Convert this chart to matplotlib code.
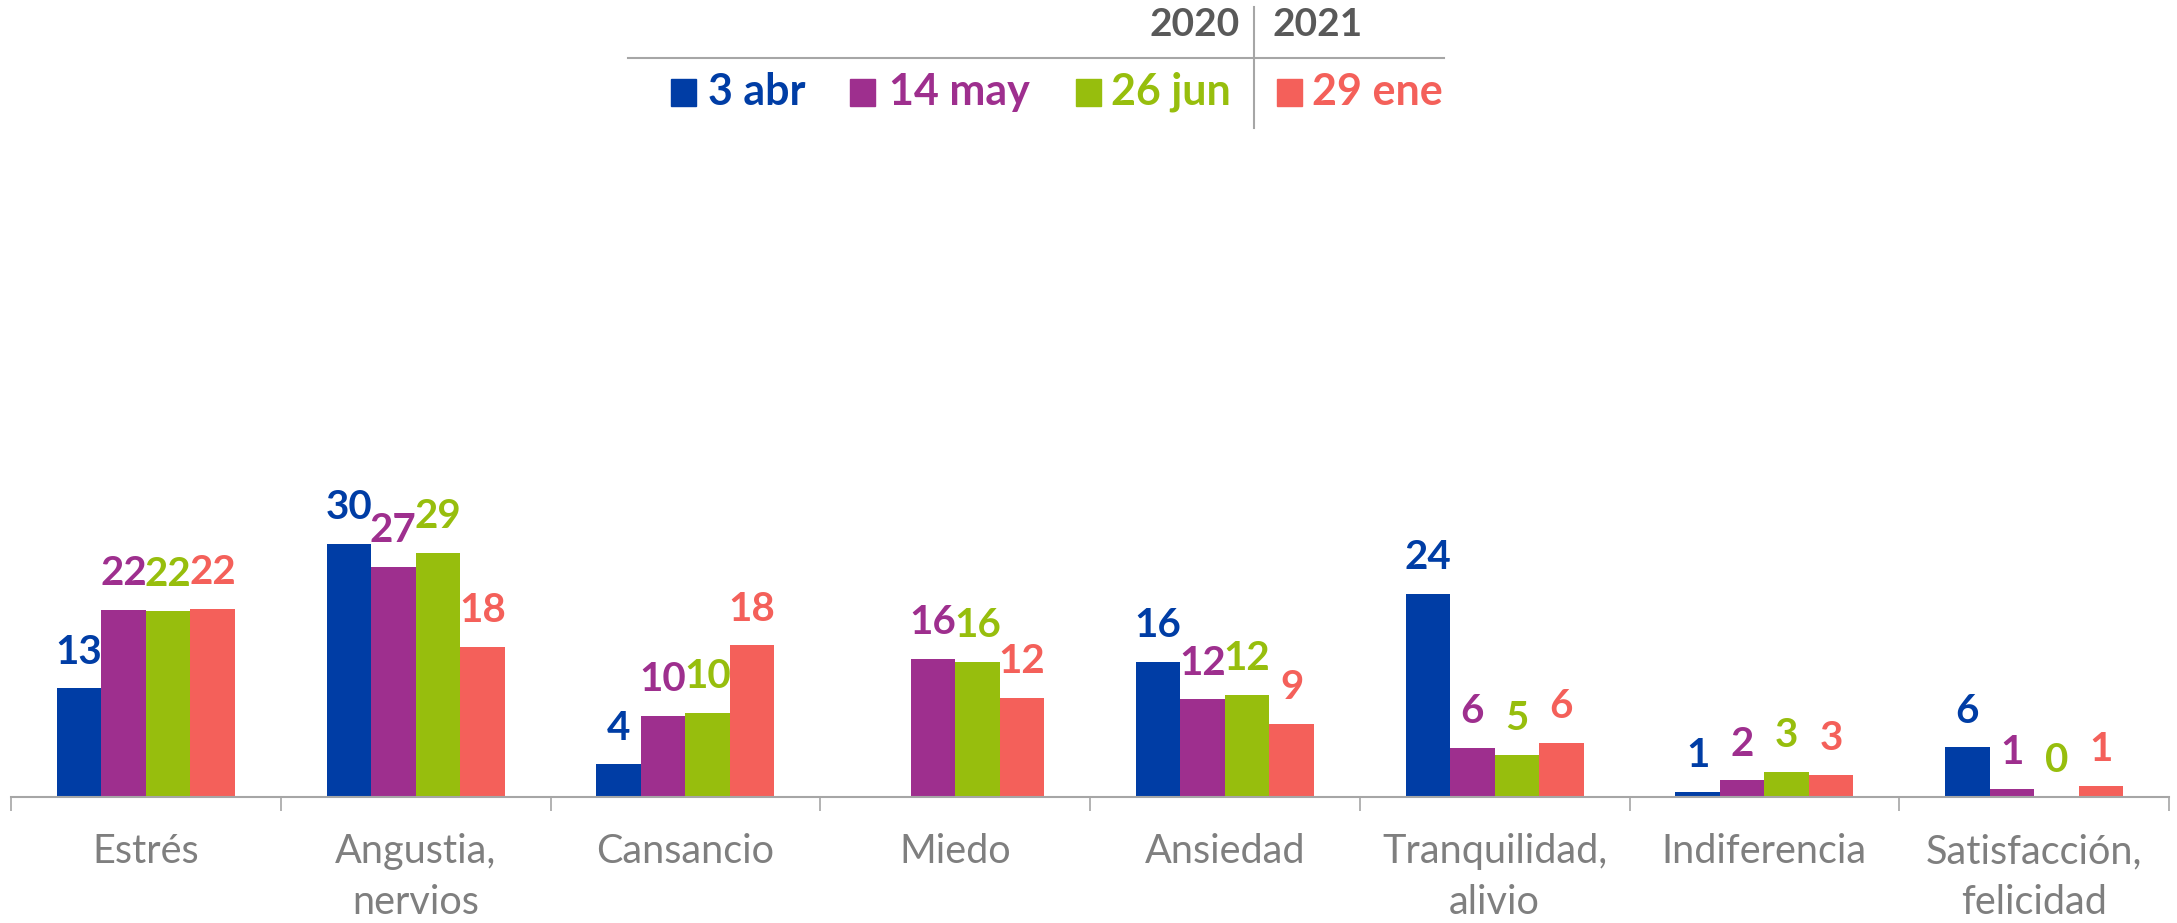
import numpy as np
import matplotlib
matplotlib.use("Agg")
import matplotlib.pyplot as plt
from matplotlib.patches import Rectangle
from matplotlib.lines import Line2D

plt.rcParams['font.family'] = ['Lato', 'DejaVu Sans']

categories = ["Estrés", "Angustia,\nnervios", "Cansancio", "Miedo", "Ansiedad",
              "Tranquilidad,\nalivio", "Indiferencia", "Satisfacción,\nfelicidad"]
series_names = ["3 abr", "14 may", "26 jun", "29 ene"]
abr_3 = [12.9, 30.0, 3.9, np.nan, 16.0, 24.1, 0.6, 5.9]
may_14 = [22.2, 27.3, 9.6, 16.4, 11.6, 5.8, 2.0, 1.0]
jun_26 = [22.1, 29.0, 10.0, 16.0, 12.1, 5.0, 3.0, 0.0]
ene_29 = [22.3, 17.8, 18.0, 11.8, 8.7, 6.4, 2.6, 1.3]
years = ["2020", "2021"]

colors = ["#003DA5", "#9E2F8E", "#97BE0D", "#F4605A"]
series = [abr_3, may_14, jun_26, ene_29]

W, H = 2177, 923
fig = plt.figure(figsize=(W / 100, H / 100), dpi=100)
ax = fig.add_axes([11 / W, 1 - 797 / H, (2169 - 11) / W, (797 - 120) / H])

n = len(categories)
x = np.arange(n)
bw = 0.165
for i, (vals, col) in enumerate(zip(series, colors)):
    pos = x + (i - 1.5) * bw
    ax.bar(pos, np.nan_to_num(vals), width=bw, color=col, linewidth=0)
    for p, v in zip(pos, vals):
        if np.isnan(v):
            continue
        ax.annotate(f"{v:.0f}", (p, v), xytext=(0, 26), textcoords="offset points",
                    ha="center", va="center", fontsize=29, fontweight="bold", color=col)

ax.set_xlim(-0.5, n - 0.5)
ax.set_ylim(0, 80.3)
ax.set_yticks([])
for s in ["top", "right", "left"]:
    ax.spines[s].set_visible(False)
ax.spines["bottom"].set_color("#A6A6A6")
ax.spines["bottom"].set_linewidth(1.5)
ax.set_xticks(x)
ax.set_xticklabels(categories, fontsize=28.5, color="#7F7F7F", linespacing=1.45)
ax.tick_params(axis="x", which="major", length=0, pad=26)
ax.set_xticks(np.arange(n + 1) - 0.5, minor=True)
ax.tick_params(axis="x", which="minor", length=10, width=1.2, color="#A6A6A6")

# legend drawn by hand
fig.add_artist(Line2D([628 / W, 1444 / W], [1 - 58 / H, 1 - 58 / H], color="#A6A6A6", lw=1.5))
fig.add_artist(Line2D([1254 / W, 1254 / W], [1 - 7 / H, 1 - 128 / H], color="#A6A6A6", lw=1.5))
fig.text(1240 / W, 1 - 25 / H, years[0], ha="right", va="center", fontsize=28,
         fontweight="bold", color="#595959")
fig.text(1273 / W, 1 - 25 / H, years[1], ha="left", va="center", fontsize=28,
         fontweight="bold", color="#595959")
sq_x = [671, 850, 1076, 1277]
tx_x = [708, 889, 1111, 1312]
for name, col, sx, tx in zip(series_names, colors, sq_x, tx_x):
    fig.add_artist(Rectangle((sx / W, 1 - 106 / H), 25 / W, 27 / H, color=col,
                             transform=fig.transFigure))
    fig.text(tx / W, 1 - 92 / H, name, ha="left", va="center", fontsize=31,
             fontweight="bold", color=col)

fig.savefig("out.png", dpi=100)
